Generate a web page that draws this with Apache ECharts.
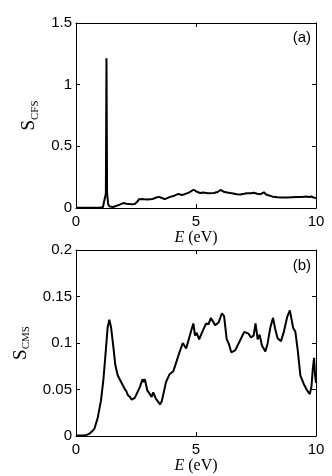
<!DOCTYPE html>
<html>
<head>
<meta charset="utf-8">
<script src="https://cdn.jsdelivr.net/npm/echarts@6/dist/echarts.min.js"></script>
<style>
  html, body { margin: 0; padding: 0; background: #fff; }
  #chart { width: 332px; height: 476px; }
</style>
</head>
<body>
<div id="chart"></div>
<script>
// panel (a): S_CFS against E (eV)
const eA = [0, 0.5, 1.0, 1.12, 1.2, 1.245, 1.27, 1.295, 1.34, 1.4, 1.55, 1.7, 1.85, 1.97, 2.1, 2.18, 2.3, 2.45, 2.55, 2.62,
  2.8, 2.94, 3.1, 3.22, 3.35, 3.45, 3.55, 3.7, 3.8, 3.92, 4.1, 4.27, 4.4, 4.5, 4.7, 4.9, 5.05, 5.18, 5.3, 5.5,
  5.74, 5.9, 6.02, 6.15, 6.3, 6.55, 6.7, 6.85, 7.0, 7.13, 7.3, 7.41, 7.55, 7.69, 7.83, 7.92, 8.0, 8.2, 8.4, 8.6,
  8.8, 9.0, 9.2, 9.4, 9.6, 9.7, 9.8, 9.9, 10]
const sCFS = [0.003, 0.003, 0.004, 0.006, 0.02, 0.12, 1.215, 0.12, 0.03, 0.012, 0.008, 0.018, 0.03, 0.04, 0.035, 0.042, 0.03, 0.032, 0.05, 0.07,
  0.072, 0.068, 0.07, 0.075, 0.085, 0.09, 0.083, 0.072, 0.08, 0.09, 0.1, 0.115, 0.105, 0.11, 0.125, 0.148, 0.13, 0.122, 0.125, 0.12,
  0.122, 0.13, 0.146, 0.132, 0.125, 0.118, 0.112, 0.11, 0.115, 0.12, 0.12, 0.124, 0.116, 0.112, 0.127, 0.11, 0.094, 0.092, 0.088, 0.086,
  0.085, 0.088, 0.09, 0.09, 0.093, 0.09, 0.093, 0.085, 0.08]

// panel (b): S_CMS against E (eV)
const eB = [0, 0.3, 0.45, 0.56, 0.67, 0.77, 0.9, 1.04, 1.14, 1.23, 1.32, 1.39, 1.46, 1.56, 1.64, 1.74, 1.88, 2.02, 2.1, 2.16,
  2.25, 2.32, 2.39, 2.45, 2.52, 2.66, 2.77, 2.82, 2.87, 2.97, 3.08, 3.15, 3.22, 3.33, 3.42, 3.5, 3.57, 3.64, 3.75, 3.89,
  4.06, 4.2, 4.31, 4.45, 4.52, 4.59, 4.72, 4.82, 4.89, 4.96, 5.03, 5.13, 5.17, 5.28, 5.42, 5.52, 5.62, 5.7, 5.8, 5.94,
  6.08, 6.17, 6.28, 6.37, 6.47, 6.63, 6.84, 7.01, 7.19, 7.29, 7.4, 7.48, 7.57, 7.65, 7.75, 7.89, 7.98, 8.1, 8.21, 8.3,
  8.4, 8.54, 8.66, 8.8, 8.91, 8.98, 9.05, 9.14, 9.24, 9.35, 9.49, 9.63, 9.74, 9.81, 9.87, 9.92, 9.96, 10]
const sCMS = [0.0005, 0.0006, 0.0012, 0.0025, 0.005, 0.008, 0.019, 0.038, 0.06, 0.088, 0.117, 0.125, 0.117, 0.095, 0.076, 0.065, 0.058, 0.051, 0.048, 0.044,
  0.042, 0.039, 0.039, 0.041, 0.04, 0.0525, 0.061, 0.058, 0.061, 0.049, 0.045, 0.042, 0.047, 0.04, 0.037, 0.034, 0.037, 0.045, 0.058, 0.066,
  0.07, 0.081, 0.09, 0.1, 0.099, 0.094, 0.106, 0.115, 0.121, 0.108, 0.111, 0.104, 0.102, 0.113, 0.121, 0.12, 0.127, 0.128, 0.119, 0.122,
  0.132, 0.129, 0.104, 0.099, 0.09, 0.092, 0.103, 0.112, 0.11, 0.106, 0.108, 0.121, 0.104, 0.109, 0.097, 0.091, 0.099, 0.117, 0.127, 0.115,
  0.105, 0.102, 0.112, 0.128, 0.135, 0.134, 0.116, 0.112, 0.092, 0.065, 0.056, 0.049, 0.045, 0.053, 0.073, 0.084, 0.066, 0.057]

const xTicks = [0, 5, 10]
const yTicksA = [0, 0.5, 1, 1.5]
const yTicksB = [0, 0.05, 0.1, 0.15, 0.2]

const sans = '"Liberation Sans", Arial, sans-serif'
const serif = '"Liberation Serif", "DejaVu Serif", serif'

const axisLine = { show: true, onZero: false, lineStyle: { color: '#000', width: 1 } }
const tick = { show: true, inside: true, length: 4, lineStyle: { color: '#000' } }

// main x axis with labels + mirrored top axis with ticks only
function xAxes(grid) {
  return [
    {
      type: 'value', gridIndex: grid, position: 'bottom',
      min: xTicks[0], max: xTicks[xTicks.length - 1], interval: xTicks[1] - xTicks[0],
      axisLine, axisTick: tick, splitLine: { show: false },
      axisLabel: { color: '#000', fontFamily: sans, fontSize: 15, margin: 6 },
      name: '{i|E} (eV)', nameLocation: 'middle', nameGap: 21,
      nameTextStyle: {
        color: '#000', fontFamily: serif, fontSize: 16,
        rich: { i: { fontStyle: 'italic', fontFamily: serif, fontSize: 16, color: '#000' } }
      }
    },
    {
      type: 'value', gridIndex: grid, position: 'top',
      min: xTicks[0], max: xTicks[xTicks.length - 1], interval: xTicks[1] - xTicks[0],
      axisLine, axisTick: tick, axisLabel: { show: false }, splitLine: { show: false }
    }
  ]
}

function yAxes(grid, ticks, sub) {
  const step = ticks[1] - ticks[0]
  return [
    {
      type: 'value', gridIndex: grid, position: 'left',
      min: ticks[0], max: ticks[ticks.length - 1], interval: step,
      axisLine, axisTick: tick, splitLine: { show: false },
      axisLabel: { color: '#000', fontFamily: sans, fontSize: 15, margin: 4 },
      name: '{s|S}{b|' + sub + '}', nameLocation: 'middle', nameGap: 34, nameRotate: 90,
      nameTextStyle: {
        color: '#000',
        rich: {
          s: { fontFamily: serif, fontSize: 19, color: '#000', lineHeight: 22 },
          b: { fontFamily: serif, fontSize: 11, color: '#000', lineHeight: 22, verticalAlign: 'bottom', padding: [6, 0, 0, 0] }
        }
      }
    },
    {
      type: 'value', gridIndex: grid, position: 'right',
      min: ticks[0], max: ticks[ticks.length - 1], interval: step,
      axisLine, axisTick: tick, axisLabel: { show: false }, splitLine: { show: false }
    }
  ]
}

const chart = echarts.init(document.getElementById('chart'), null, { renderer: 'canvas' })

chart.setOption({
  animation: false,
  backgroundColor: '#fff',
  grid: [
    { left: 76, top: 23, width: 240, height: 185 },
    { left: 76, top: 250, width: 240, height: 186 }
  ],
  xAxis: [...xAxes(0), ...xAxes(1)],
  yAxis: [...yAxes(0, yTicksA, 'CFS'), ...yAxes(1, yTicksB, 'CMS')],
  graphic: [
    { type: 'text', right: 21, top: 30, style: { text: '(a)', font: '15px ' + sans, fill: '#000' } },
    { type: 'text', right: 21, top: 258, style: { text: '(b)', font: '15px ' + sans, fill: '#000' } }
  ],
  series: [
    {
      type: 'line', xAxisIndex: 0, yAxisIndex: 0, showSymbol: false, symbol: 'none',
      lineStyle: { color: '#000', width: 2 },
      data: eA.map((e, i) => [e, sCFS[i]])
    },
    {
      type: 'line', xAxisIndex: 2, yAxisIndex: 2, showSymbol: false, symbol: 'none',
      lineStyle: { color: '#000', width: 2 },
      data: eB.map((e, i) => [e, sCMS[i]])
    }
  ]
})
</script>
</body>
</html>
